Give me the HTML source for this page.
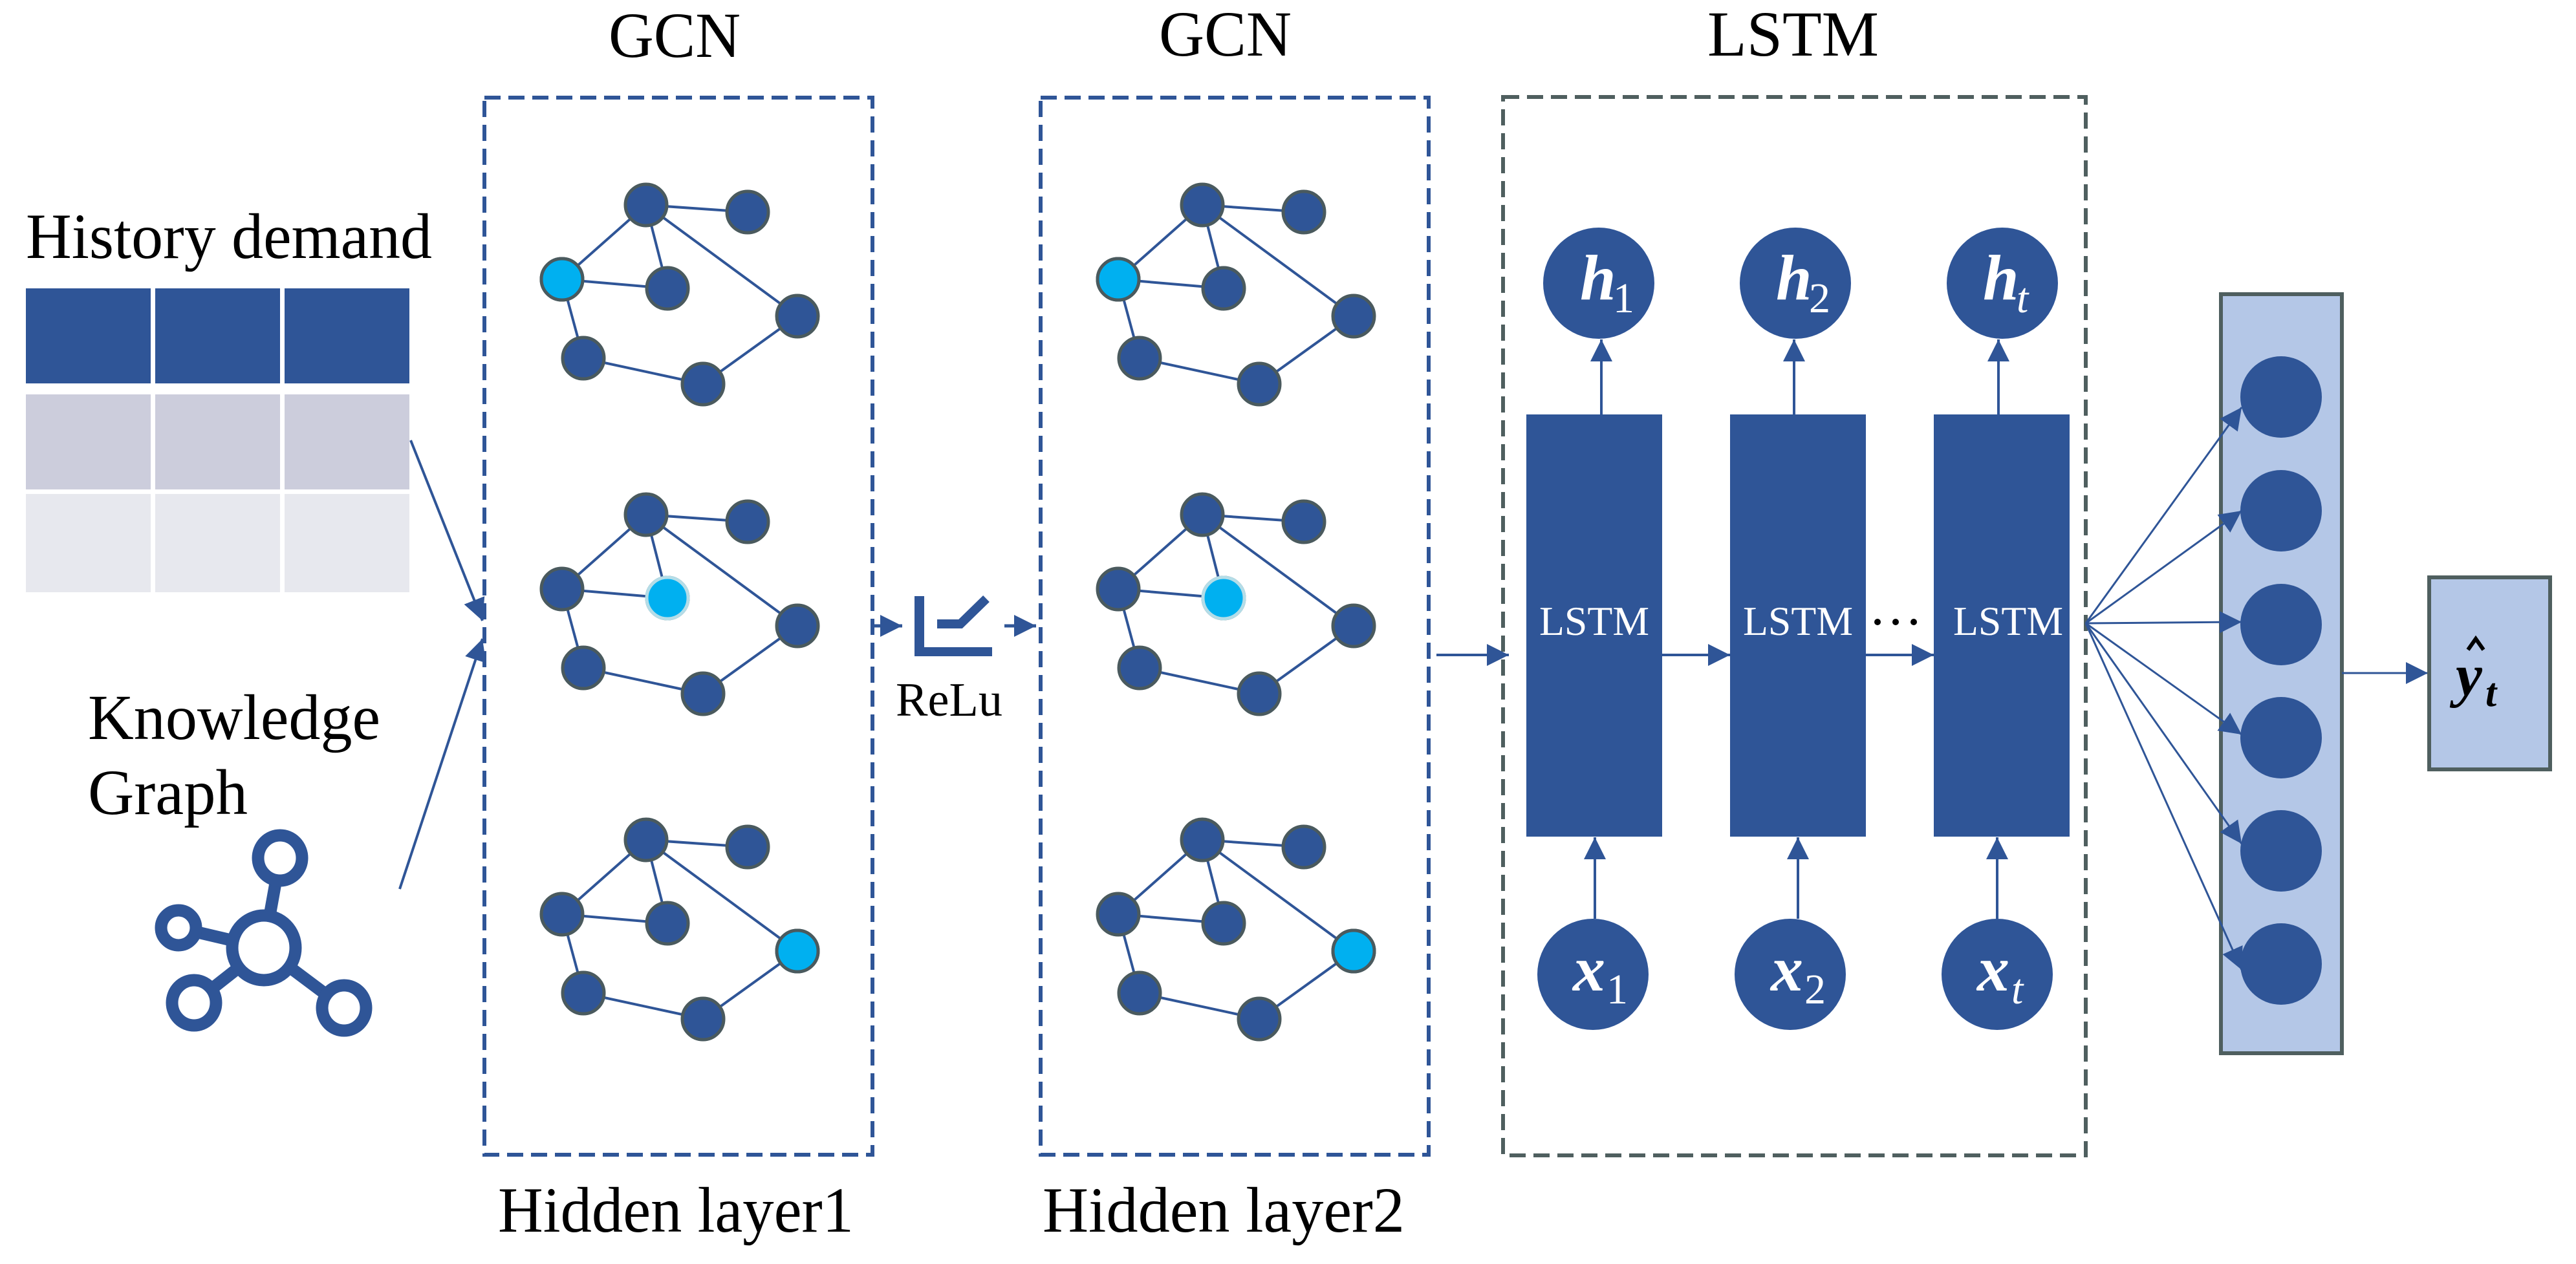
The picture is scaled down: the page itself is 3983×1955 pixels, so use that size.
<!DOCTYPE html>
<html><head><meta charset="utf-8"><style>
html,body{margin:0;padding:0;background:#fff;}
svg{display:block;}
text{font-family:"Liberation Serif","Times New Roman",serif;}
</style></head><body>
<svg width="3983" height="1955" viewBox="0 0 3983 1955" xmlns="http://www.w3.org/2000/svg" font-family="Liberation Serif, Times New Roman, serif">
<defs>
<marker id="a" viewBox="0 0 10 10" refX="10" refY="5" markerWidth="34" markerHeight="34" markerUnits="userSpaceOnUse" orient="auto"><path d="M0,0 L10,5 L0,10 z" fill="#2f5597"/></marker>
<g id="gr">
 <g stroke="#2f5597" stroke-width="4">
  <line x1="999" y1="317" x2="1156" y2="328"/>
  <line x1="999" y1="317" x2="869" y2="432"/>
  <line x1="999" y1="317" x2="1032" y2="446"/>
  <line x1="999" y1="317" x2="1233" y2="489"/>
  <line x1="869" y1="432" x2="1032" y2="446"/>
  <line x1="869" y1="432" x2="902" y2="554"/>
  <line x1="902" y1="554" x2="1087" y2="594"/>
  <line x1="1087" y1="594" x2="1233" y2="489"/>
 </g>
 <g fill="#2f5597" stroke="#4a5a5e" stroke-width="5">
  <circle cx="999" cy="317" r="32"/><circle cx="1156" cy="328" r="32"/>
  <circle cx="869" cy="432" r="32"/><circle cx="1032" cy="446" r="32"/>
  <circle cx="1233" cy="489" r="32"/><circle cx="902" cy="554" r="32"/>
  <circle cx="1087" cy="594" r="32"/>
 </g>
</g>
</defs>

<!-- titles -->
<text x="941" y="88" font-size="100" textLength="204" lengthAdjust="spacingAndGlyphs">GCN</text>
<text x="1792" y="86" font-size="100" textLength="205" lengthAdjust="spacingAndGlyphs">GCN</text>
<text x="2640" y="86" font-size="100" textLength="265" lengthAdjust="spacingAndGlyphs">LSTM</text>
<text x="770" y="1905" font-size="100" textLength="550" lengthAdjust="spacingAndGlyphs">Hidden layer1</text>
<text x="1612" y="1905" font-size="100" textLength="560" lengthAdjust="spacingAndGlyphs">Hidden layer2</text>

<!-- history -->
<text x="40" y="399" font-size="100" textLength="628" lengthAdjust="spacingAndGlyphs">History demand</text>
<g fill="#2f5597"><rect x="40" y="446" width="193" height="147"/><rect x="240" y="446" width="193" height="147"/><rect x="440" y="446" width="193" height="147"/></g>
<g fill="#cccddc"><rect x="40" y="610" width="193" height="147"/><rect x="240" y="610" width="193" height="147"/><rect x="440" y="610" width="193" height="147"/></g>
<g fill="#e7e8ee"><rect x="40" y="764" width="193" height="152"/><rect x="240" y="764" width="193" height="152"/><rect x="440" y="764" width="193" height="152"/></g>

<text x="136" y="1143" font-size="100" textLength="452" lengthAdjust="spacingAndGlyphs">Knowledge</text>
<text x="136" y="1259" font-size="100" textLength="247" lengthAdjust="spacingAndGlyphs">Graph</text>
<!-- KG icon -->
<g stroke="#2f5597" stroke-width="19" fill="none">
 <line x1="408" y1="1466" x2="433" y2="1327"/><line x1="408" y1="1466" x2="276" y2="1435"/>
 <line x1="408" y1="1466" x2="300" y2="1551"/><line x1="408" y1="1466" x2="532" y2="1559"/>
</g>
<g stroke="#2f5597" stroke-width="19" fill="#fff">
 <ellipse cx="408" cy="1466" rx="49" ry="50"/>
 <ellipse cx="433" cy="1327" rx="34" ry="35"/>
 <ellipse cx="276" cy="1435" rx="27" ry="27"/>
 <ellipse cx="300" cy="1551" rx="34" ry="35"/>
 <ellipse cx="532" cy="1559" rx="34" ry="35"/>
</g>

<!-- input arrows -->
<g stroke="#2f5597" stroke-width="4" marker-end="url(#a)">
 <line x1="635" y1="681" x2="746" y2="960"/>
 <line x1="618" y1="1375" x2="746" y2="988"/>
</g>

<!-- GCN boxes -->
<g fill="none" stroke="#2f5597" stroke-width="6" stroke-dasharray="25 12">
 <rect x="749" y="151" width="600" height="1635"/>
 <rect x="1609" y="151" width="600" height="1635"/>
</g>
<use href="#gr"/>
<use href="#gr" transform="translate(0,479)"/>
<use href="#gr" transform="translate(0,982)"/>
<use href="#gr" transform="translate(860,0)"/>
<use href="#gr" transform="translate(860,479)"/>
<use href="#gr" transform="translate(860,982)"/>
<g fill="#00b0f0" stroke="#4a5a5e" stroke-width="5">
 <circle cx="869" cy="432" r="32"/><circle cx="1729" cy="432" r="32"/>
 <circle cx="1233" cy="1471" r="32"/><circle cx="2093" cy="1471" r="32"/>
</g>
<g fill="#00b0f0" stroke="#b4dde8" stroke-width="5">
 <circle cx="1032" cy="925" r="32"/><circle cx="1892" cy="925" r="32"/>
</g>

<!-- ReLU -->
<g stroke="#2f5597" stroke-width="5" marker-end="url(#a)">
 <line x1="1349" y1="968" x2="1395" y2="968"/>
 <line x1="1553" y1="968" x2="1602" y2="968"/>
</g>
<path d="M1414,922 H1429 V1001 H1534 V1015 H1414 Z" fill="#2f5597"/>
<path d="M1449,965 H1485 L1525,926" stroke="#2f5597" stroke-width="14" fill="none"/>
<text x="1385" y="1107" font-size="74" textLength="165" lengthAdjust="spacingAndGlyphs">ReLu</text>

<!-- LSTM box -->
<rect x="2324" y="150" width="901" height="1637" fill="none" stroke="#4f5f5f" stroke-width="6" stroke-dasharray="25 12"/>
<line x1="2221" y1="1013" x2="2333" y2="1013" stroke="#2f5597" stroke-width="4" marker-end="url(#a)"/>
<g fill="#2f5597">
 <rect x="2360" y="641" width="210" height="653"/>
 <rect x="2675" y="641" width="210" height="653"/>
 <rect x="2990" y="641" width="210" height="653"/>
 <circle cx="2472" cy="438" r="86"/><circle cx="2776" cy="438" r="86"/><circle cx="3096" cy="438" r="86"/>
 <circle cx="2463" cy="1507" r="86"/><circle cx="2768" cy="1507" r="86"/><circle cx="3088" cy="1507" r="86"/>
</g>
<g fill="#fff" font-size="64">
 <text x="2380" y="982" textLength="170" lengthAdjust="spacingAndGlyphs">LSTM</text>
 <text x="2695" y="982" textLength="170" lengthAdjust="spacingAndGlyphs">LSTM</text>
 <text x="3020" y="982" textLength="170" lengthAdjust="spacingAndGlyphs">LSTM</text>
</g>
<g fill="#000"><circle cx="2903" cy="962" r="5"/><circle cx="2931" cy="962" r="5"/><circle cx="2959" cy="962" r="5"/></g>
<g stroke="#2f5597" stroke-width="4" marker-end="url(#a)">
 <line x1="2476" y1="641" x2="2476" y2="525"/>
 <line x1="2774" y1="641" x2="2774" y2="525"/>
 <line x1="3090" y1="641" x2="3090" y2="525"/>
 <line x1="2466" y1="1421" x2="2466" y2="1295"/>
 <line x1="2780" y1="1421" x2="2780" y2="1295"/>
 <line x1="3088" y1="1421" x2="3088" y2="1295"/>
 <line x1="2570" y1="1013" x2="2675" y2="1013"/>
 <line x1="2885" y1="1013" x2="2990" y2="1013"/>
</g>
<g fill="#fff" font-style="italic" font-weight="bold" font-size="100">
 <text x="2443" y="463">h</text><text x="2746" y="463">h</text><text x="3066" y="463">h</text>
 <text x="2432" y="1532">x</text><text x="2738" y="1532">x</text><text x="3057" y="1532">x</text>
</g>
<g fill="#fff" font-size="66">
 <text x="2494" y="483">1</text><text x="2797" y="483">2</text><text x="3118" y="483" font-style="italic">t</text>
 <text x="2484" y="1552">1</text><text x="2790" y="1552">2</text><text x="3110" y="1552" font-style="italic">t</text>
</g>

<!-- dense layer -->
<rect x="3434" y="455" width="187" height="1174" fill="#b4c7e7" stroke="#4f5f5f" stroke-width="6"/>
<g fill="#2f5597">
 <circle cx="3527" cy="614" r="63"/><circle cx="3527" cy="790" r="63"/><circle cx="3527" cy="966" r="63"/>
 <circle cx="3527" cy="1141" r="63"/><circle cx="3527" cy="1316" r="63"/><circle cx="3527" cy="1491" r="63"/>
</g>
<g stroke="#2f5597" stroke-width="3" marker-end="url(#a)">
 <line x1="3225" y1="964" x2="3466" y2="630"/>
 <line x1="3225" y1="964" x2="3466" y2="790"/>
 <line x1="3225" y1="964" x2="3466" y2="962"/>
 <line x1="3225" y1="964" x2="3466" y2="1136"/>
 <line x1="3225" y1="964" x2="3466" y2="1305"/>
 <line x1="3225" y1="964" x2="3466" y2="1500"/>
 <line x1="3621" y1="1041" x2="3754" y2="1041"/>
</g>
<rect x="3756" y="893" width="187" height="297" fill="#b4c7e7" stroke="#4f5f5f" stroke-width="6"/>
<text x="3797" y="1075" font-size="92" font-style="italic" font-weight="bold">y</text>
<path d="M3816,1005 L3828,988 L3840,1005" stroke="#000" stroke-width="6" fill="none"/>
<text x="3843" y="1092" font-size="62" font-style="italic" font-weight="bold">t</text>
</svg>
</body></html>
